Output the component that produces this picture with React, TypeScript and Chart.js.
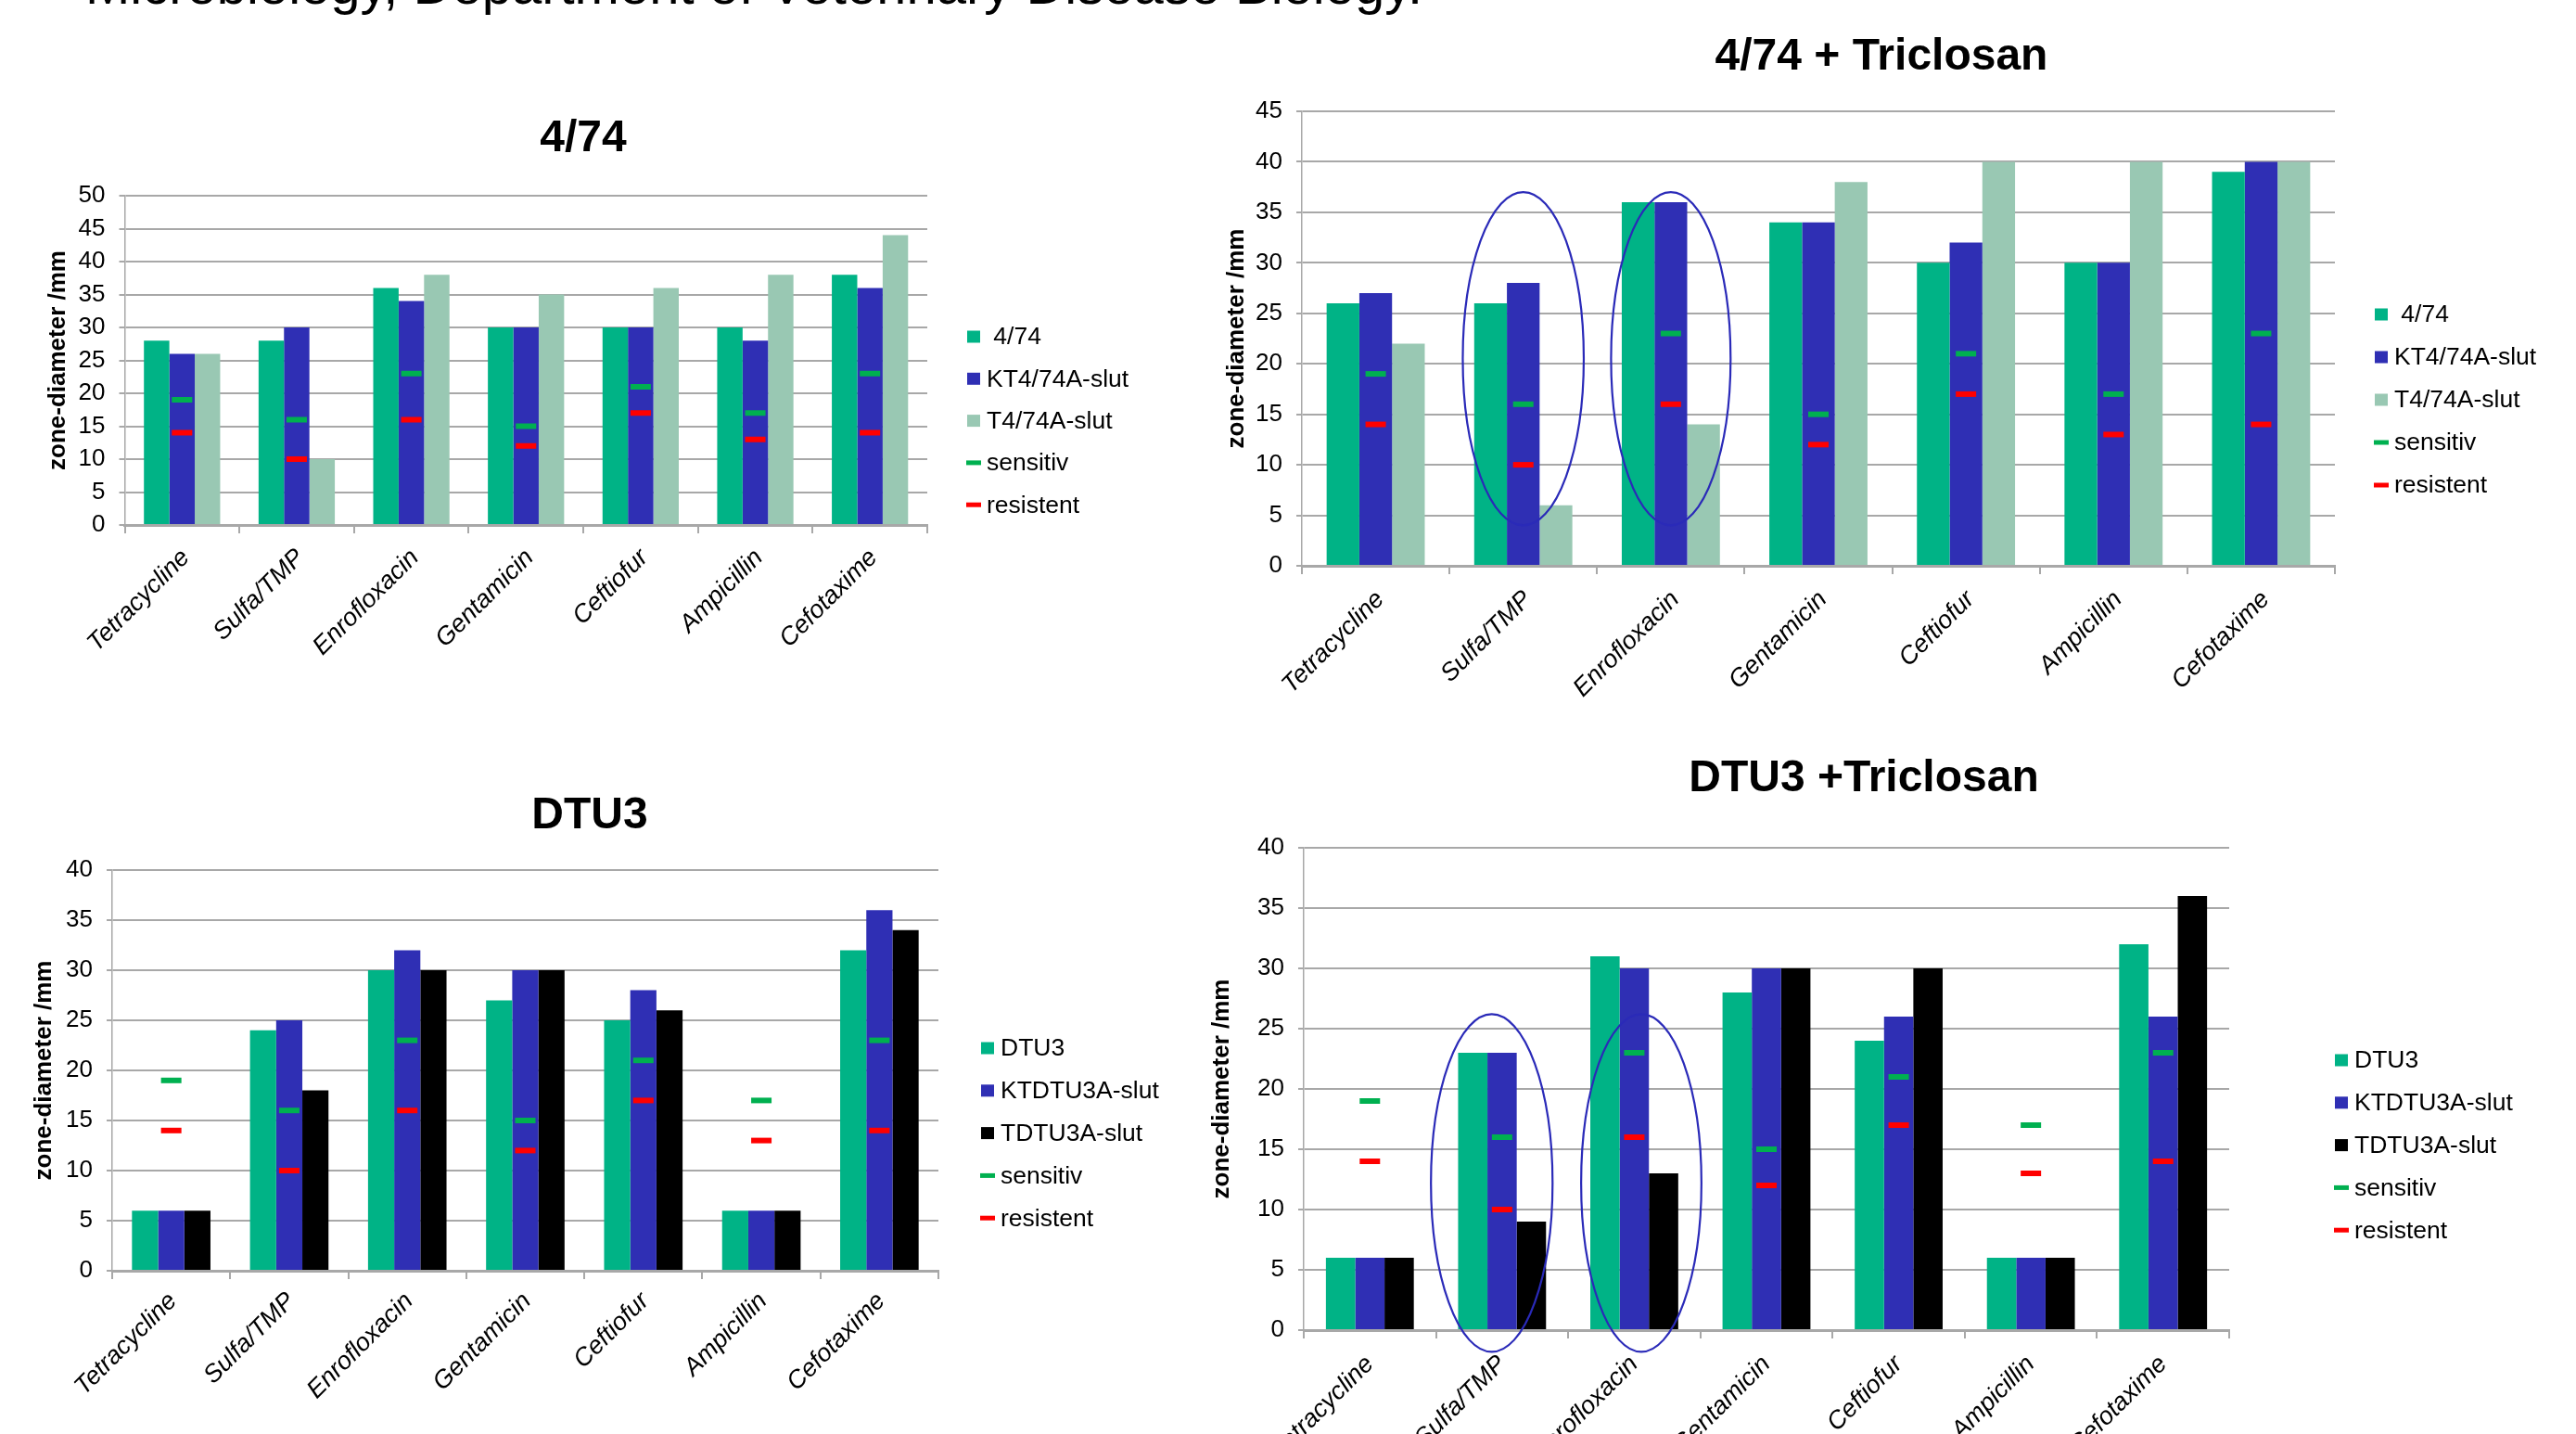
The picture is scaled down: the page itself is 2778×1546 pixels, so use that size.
import React, { useEffect, useRef } from "react";
import { Chart, registerables } from "chart.js";

Chart.register(...registerables);

const FONT = '"Liberation Sans", Arial, Helvetica, sans-serif';

// ---------- data ----------
const antibiotics = ["Tetracycline", "Sulfa/TMP", "Enrofloxacin", "Gentamicin", "Ceftiofur", "Ampicillin", "Cefotaxime"];
const sensitivLimit = [19, 16, 23, 15, 21, 17, 23];
const resistentLimit = [14, 10, 16, 12, 17, 13, 14];

const labels474 = [" 4/74", "KT4/74A-slut", "T4/74A-slut"];
const labelsDtu3 = ["DTU3", "KTDTU3A-slut", "TDTU3A-slut"];

// 4/74
const wt474 = [28, 28, 36, 30, 30, 30, 38];
const kt474 = [26, 30, 34, 30, 30, 28, 36];
const t474 = [26, 10, 38, 35, 36, 38, 44];
// 4/74 + Triclosan
const wt474Tric = [26, 26, 36, 34, 30, 30, 39];
const kt474Tric = [27, 28, 36, 34, 32, 30, 40];
const t474Tric = [22, 6, 14, 38, 40, 40, 40];
// DTU3
const dtu3 = [6, 24, 30, 27, 25, 6, 32];
const ktDtu3 = [6, 25, 32, 30, 28, 6, 36];
const tDtu3 = [6, 18, 30, 30, 26, 6, 34];
// DTU3 + Triclosan
const dtu3Tric = [6, 23, 31, 28, 24, 6, 32];
const ktDtu3Tric = [6, 23, 30, 30, 26, 6, 26];
const tDtu3Tric = [6, 9, 13, 30, 30, 6, 36];

const yMaxValues = [50, 45, 40, 40];
const yStep = 5;

// highlighted groups (value range of the drawn ellipse)
const highlight474Tric = [
  { category: "Sulfa/TMP", top: 37, bottom: 4 },
  { category: "Enrofloxacin", top: 37, bottom: 4 },
];
const highlightDtu3Tric = [
  { category: "Sulfa/TMP", top: 26.2, bottom: -1.8 },
  { category: "Enrofloxacin", top: 26.2, bottom: -1.8 },
];

// ---------- styles ----------
const GREEN = "#00B386";
const BLUE = "#2F2FB4";
const LIGHT = "#99C8B3";
const BLACK = "#000000";
const SENS = "#00B050";
const RES = "#FF0000";
const GRID = "#a8a8a8";

type Spec = {
  title: string;
  labels: string[];
  series: number[][];
  colors: string[];
  yMax: number;
  frame: { x: number; y: number; w: number; h: number };
  plot: { l: number; t: number; r: number; b: number };
  titlePos: { x: number; y: number };
  legend: { x: number; y: number; dy: number };
  yTitleX: number;
  xLab: { padding: number; offset: number };
  ellipses?: { category: string; top: number; bottom: number }[];
  ellipseGeom?: { shift: number; half: number }[];
};

const specs: Spec[] = [
  {
    title: "4/74",
    labels: labels474,
    series: [wt474, kt474, t474],
    colors: [GREEN, BLUE, LIGHT],
    yMax: yMaxValues[0],
    frame: { x: 0, y: 80, w: 1300, h: 700 },
    plot: { l: 134.5, t: 211, r: 1000, b: 566 },
    titlePos: { x: 629, y: 150 },
    legend: { x: 1043, y: 363, dy: 45.3 },
    yTitleX: 63,
    xLab: { padding: 10.5, offset: 4 },
  },
  {
    title: "4/74 + Triclosan",
    labels: labels474,
    series: [wt474Tric, kt474Tric, t474Tric],
    colors: [GREEN, BLUE, LIGHT],
    yMax: yMaxValues[1],
    frame: { x: 1300, y: 0, w: 1478, h: 760 },
    plot: { l: 1404, t: 120, r: 2518, b: 610 },
    titlePos: { x: 2029, y: 62 },
    legend: { x: 2561, y: 339, dy: 46 },
    yTitleX: 1334,
    xLab: { padding: 11.5, offset: 5 },
    ellipses: highlight474Tric,
    ellipseGeom: [
      { shift: 0, half: 0.41 },
      { shift: 0, half: 0.405 },
    ],
  },
  {
    title: "DTU3",
    labels: labelsDtu3,
    series: [dtu3, ktDtu3, tDtu3],
    colors: [GREEN, BLUE, BLACK],
    yMax: yMaxValues[2],
    frame: { x: 0, y: 780, w: 1300, h: 766 },
    plot: { l: 121, t: 938, r: 1012, b: 1370 },
    titlePos: { x: 636, y: 880 },
    legend: { x: 1058, y: 1130, dy: 45.8 },
    yTitleX: 48,
    xLab: { padding: 8, offset: 2 },
  },
  {
    title: "DTU3 +Triclosan",
    labels: labelsDtu3,
    series: [dtu3Tric, ktDtu3Tric, tDtu3Tric],
    colors: [GREEN, BLUE, BLACK],
    yMax: yMaxValues[3],
    frame: { x: 1300, y: 770, w: 1478, h: 776 },
    plot: { l: 1406, t: 914, r: 2404, b: 1434 },
    titlePos: { x: 2010, y: 840 },
    legend: { x: 2518, y: 1143, dy: 45.8 },
    yTitleX: 1318,
    xLab: { padding: 12, offset: 0 },
    ellipses: highlightDtu3Tric,
    ellipseGeom: [
      { shift: -0.078, half: 0.46 },
      { shift: 0.053, half: 0.455 },
    ],
  },
];

const decorPlugin = {
  id: "decor",
  afterDatasetsDraw(chart: any, _args: any, o: any) {
    if (!o || !o.ellipses) return;
    const { ctx, scales } = chart;
    const xs = scales.x;
    const ys = scales.y;
    const cats: string[] = chart.data.labels;
    const cw = (xs.right - xs.left) / cats.length;
    ctx.save();
    ctx.strokeStyle = "#2A2AB8";
    ctx.lineWidth = 2.2;
    o.ellipses.forEach((e: any, i: number) => {
      const g = o.geom[i];
      const idx = cats.indexOf(e.category);
      const cx = xs.getPixelForValue(idx) + g.shift * cw;
      const yt = ys.getPixelForValue(e.top);
      const yb = ys.getPixelForValue(e.bottom);
      ctx.beginPath();
      ctx.ellipse(cx, (yt + yb) / 2, g.half * cw, Math.abs(yb - yt) / 2, 0, 0, Math.PI * 2);
      ctx.stroke();
    });
    ctx.restore();
  },
  afterDraw(chart: any, _args: any, o: any) {
    const ctx = chart.ctx;
    ctx.save();
    ctx.fillStyle = "#000";
    ctx.font = `bold 48px ${FONT}`;
    ctx.textAlign = "center";
    ctx.textBaseline = "middle";
    ctx.fillText(o.title, o.titleX - o.ox, o.titleY - o.oy);
    ctx.font = `26.5px ${FONT}`;
    ctx.textAlign = "left";
    chart.data.datasets.forEach((d: any, i: number) => {
      const y = o.legendY - o.oy + i * o.legendDy;
      const x = o.legendX - o.ox;
      if (d.type === "line") {
        ctx.fillStyle = d.pointBorderColor;
        ctx.fillRect(x - 1, y - 2.5, 16, 5);
      } else {
        ctx.fillStyle = d.backgroundColor;
        ctx.fillRect(x, y - 6.5, 14, 13);
      }
      ctx.fillStyle = "#000";
      ctx.fillText(d.label, x + 21, y + 1);
    });
    ctx.restore();
  },
};

function ZoneChart({ spec }: { spec: Spec }) {
  const ref = useRef<HTMLCanvasElement>(null);
  useEffect(() => {
    const s = spec;
    const f = s.frame;
    const yW = s.plot.l - f.x;
    const xH = f.y + f.h - s.plot.b;
    const yTitleLH = 26 * 1.2;
    const chart = new Chart(ref.current as HTMLCanvasElement, {
      type: "bar",
      data: {
        labels: antibiotics,
        datasets: [
          ...s.series.map((vals, i) => ({
            type: "bar" as const,
            label: s.labels[i],
            data: vals,
            backgroundColor: s.colors[i],
            borderWidth: 0,
            categoryPercentage: 0.665,
            barPercentage: 1,
            order: 1,
          })),
          {
            type: "line" as const,
            label: "sensitiv",
            data: sensitivLimit,
            showLine: false,
            pointStyle: "line",
            pointRadius: 11,
            pointHoverRadius: 11,
            pointBorderWidth: 6,
            pointBorderColor: SENS,
            pointBackgroundColor: SENS,
            borderColor: SENS,
            order: 0,
          },
          {
            type: "line" as const,
            label: "resistent",
            data: resistentLimit,
            showLine: false,
            pointStyle: "line",
            pointRadius: 11,
            pointHoverRadius: 11,
            pointBorderWidth: 6,
            pointBorderColor: RES,
            pointBackgroundColor: RES,
            borderColor: RES,
            order: 0,
          },
        ] as any,
      },
      options: {
        animation: false,
        responsive: false,
        devicePixelRatio: 1,
        events: [],
        layout: {
          padding: { left: 0, top: s.plot.t - f.y, right: f.x + f.w - s.plot.r, bottom: 0 },
        },
        plugins: {
          legend: { display: false },
          tooltip: { enabled: false },
          title: { display: false },
          decor: {
            title: s.title,
            titleX: s.titlePos.x,
            titleY: s.titlePos.y,
            legendX: s.legend.x,
            legendY: s.legend.y,
            legendDy: s.legend.dy,
            ox: f.x,
            oy: f.y,
            ellipses: s.ellipses,
            geom: s.ellipseGeom,
          },
        } as any,
        scales: {
          x: {
            ticks: {
              font: { family: FONT, size: 27, style: "italic" },
              color: "#000",
              maxRotation: 45,
              minRotation: 45,
              autoSkip: false,
              padding: s.xLab.padding,
              labelOffset: s.xLab.offset,
            },
            grid: {
              offset: true,
              drawOnChartArea: false,
              drawTicks: true,
              tickLength: 9,
              color: GRID,
              lineWidth: 2,
            },
            border: { display: true, color: GRID, width: 3 },
            afterFit: (sc: any) => {
              sc.height = xH;
            },
          },
          y: {
            min: 0,
            max: s.yMax,
            ticks: {
              stepSize: yStep,
              font: { family: FONT, size: 26 },
              color: "#000",
              padding: 15,
            },
            grid: { color: GRID, lineWidth: 2, drawTicks: true, tickLength: 6 },
            border: { display: true, color: GRID, width: 1.5 },
            title: {
              display: true,
              text: "zone-diameter /mm",
              color: "#000",
              font: { family: FONT, size: 26, weight: "bold" },
              padding: { top: s.yTitleX - f.x - yTitleLH / 2, bottom: 0 },
            },
            afterFit: (sc: any) => {
              sc.width = yW;
            },
          },
        },
      } as any,
      plugins: [decorPlugin as any],
    });
    return () => chart.destroy();
  }, [spec]);
  const f = spec.frame;
  return (
    <canvas
      ref={ref}
      width={f.w}
      height={f.h}
      style={{ position: "absolute", left: f.x, top: f.y, width: f.w, height: f.h }}
    />
  );
}

export default function App() {
  return (
    <div
      style={{
        position: "absolute",
        left: 0,
        top: 0,
        width: 2778,
        height: 1546,
        overflow: "hidden",
        background: "#fff",
      }}
    >
      <div
        style={{
          position: "absolute",
          left: 92,
          top: -45,
          fontFamily: FONT,
          fontSize: 58,
          lineHeight: "58px",
          whiteSpace: "nowrap",
          color: "#000",
        }}
      >
        Microbiology, Department of Veterinary Disease Biology.
      </div>
      {specs.map((s, i) => (
        <ZoneChart key={i} spec={s} />
      ))}
    </div>
  );
}
